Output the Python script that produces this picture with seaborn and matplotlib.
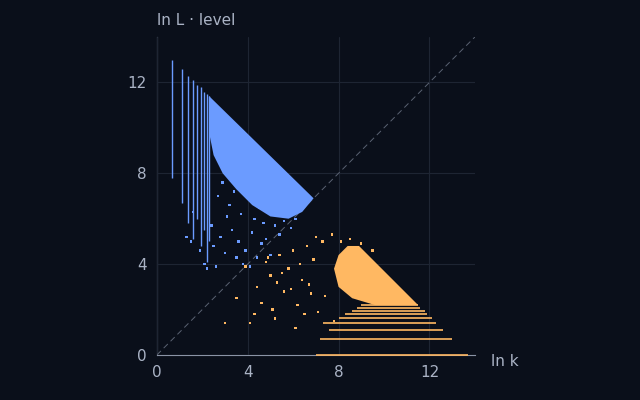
import numpy as np
import pandas as pd
import matplotlib.pyplot as plt
import seaborn as sns

sns.set_style('dark')
plt.rcParams['font.family'] = ['DejaVu Sans']

BG = '#0a0f1a'
BLUE = '#6b9bff'
ORANGE = '#ffb862'
TXT = '#aab3c5'

# blue stripes: ln k, low and high ln(L*level)
blue_stripe_x = [0.69, 1.10, 1.39, 1.61, 1.79, 1.95, 2.08, 2.20, 2.30]
blue_stripe_lo = [7.8, 6.7, 5.8, 5.1, 6.0, 4.8, 5.5, 4.1, 5.0]
blue_stripe_hi = [13.0, 12.6, 12.3, 12.1, 11.9, 11.8, 11.6, 11.5, 11.4]

# orange stripes: ln level, x extent
orange_stripe_y = [0.0, 0.69, 1.10, 1.39, 1.61, 1.79, 1.95, 2.08, 2.20]
orange_stripe_lo = [7.0, 7.2, 7.6, 7.3, 8.0, 8.3, 8.6, 8.8, 9.0]
orange_stripe_hi = [13.7, 13.0, 12.6, 12.3, 12.1, 11.9, 11.8, 11.6, 11.5]

# dense regions (outline)
blue_area_x = [2.3, 6.9, 6.4, 5.8, 5.0, 4.2, 3.5, 2.9, 2.5, 2.3]
blue_area_y = [11.4, 6.9, 6.3, 6.0, 6.1, 6.6, 7.3, 8.0, 8.8, 9.8]
orange_area_x = [8.4, 8.9, 11.5, 9.6, 8.6, 8.0, 7.8, 8.0]
orange_area_y = [4.8, 4.8, 2.2, 2.2, 2.5, 3.0, 3.8, 4.4]

# scattered points
blue_pts_x = [1.3, 1.5, 1.6, 1.9, 2.1, 2.2, 2.4, 2.5, 2.6, 2.8, 3.0, 3.1, 3.3, 3.5,
              3.6, 3.8, 3.9, 4.1, 4.2, 4.4, 4.6, 4.8, 5.0, 5.2, 5.4, 5.6, 5.9, 6.1,
              2.7, 3.2, 3.7, 4.3, 4.7, 2.9, 3.4, 4.0, 4.5, 5.1]
blue_pts_y = [5.2, 5.0, 6.3, 4.6, 4.0, 3.8, 5.7, 4.8, 3.9, 5.2, 4.5, 6.1, 5.5, 4.3,
              5.0, 4.0, 4.6, 3.9, 5.4, 4.3, 4.9, 5.1, 4.4, 5.7, 5.3, 5.9, 5.6, 6.0,
              7.0, 6.6, 6.2, 6.0, 5.8, 7.6, 7.2, 6.9, 6.5, 6.3]
orange_pts_x = [3.0, 3.5, 3.9, 4.1, 4.4, 4.6, 4.8, 5.0, 5.2, 5.4, 5.6, 5.8, 6.0, 6.2,
                6.4, 6.6, 6.8, 7.0, 4.3, 5.1, 5.5, 5.9, 6.3, 6.7, 7.1, 7.4, 7.8,
                4.9, 5.3, 6.1, 6.5, 6.9, 7.3, 7.7, 8.1, 8.5, 9.0, 9.5]
orange_pts_y = [1.4, 2.5, 3.9, 1.4, 3.0, 2.3, 4.1, 3.5, 1.6, 4.4, 2.8, 3.8, 4.6, 2.2,
                3.3, 4.8, 2.7, 5.2, 1.8, 2.0, 3.6, 2.9, 4.0, 3.1, 1.9, 2.6, 1.5,
                4.3, 3.2, 1.2, 1.8, 4.2, 5.0, 5.3, 5.0, 5.1, 4.9, 4.6]

fig = plt.figure(figsize=(6.4, 4.0), dpi=100, facecolor=BG)
ax = fig.add_axes([0.245, 0.1125, 0.497, 0.795], facecolor=BG)

ax.plot([0, 14], [0, 14], ls=(0, (6, 4)), color='#5a6272', lw=0.7, zorder=1)

ax.fill(blue_area_x, blue_area_y, color=BLUE, lw=0, zorder=2)
ax.fill(orange_area_x, orange_area_y, color=ORANGE, lw=0, zorder=2)
ax.vlines(blue_stripe_x, blue_stripe_lo, blue_stripe_hi, color=BLUE, lw=1.0, zorder=2)
ax.hlines(orange_stripe_y, orange_stripe_lo, orange_stripe_hi, color=ORANGE, lw=1.2,
          zorder=4, clip_on=False)

pts = pd.DataFrame({
    'x': blue_pts_x + orange_pts_x,
    'y': blue_pts_y + orange_pts_y,
    'side': ['a'] * len(blue_pts_x) + ['b'] * len(orange_pts_x),
})
sns.scatterplot(data=pts, x='x', y='y', hue='side', palette={'a': BLUE, 'b': ORANGE},
                s=3, marker='s', linewidth=0, legend=False, ax=ax, zorder=3)

ax.set_xlim(0, 14)
ax.set_ylim(0, 14)
ax.set_xticks([0, 4, 8, 12])
ax.set_yticks([0, 4, 8, 12])
ax.grid(True, color='#1e2533', lw=0.8)
ax.set_axisbelow(True)
for s in ['top', 'right']:
    ax.spines[s].set_visible(False)
for s in ['left', 'bottom']:
    ax.spines[s].set_color('#8a93a5')
    ax.spines[s].set_linewidth(0.8)
    ax.spines[s].set_zorder(0.5)
ax.tick_params(colors=TXT, labelsize=11, length=4, color='#8a93a5')
ax.set_xlabel('')
ax.set_ylabel('')
ax.text(14.7, -0.3, 'ln k', color=TXT, fontsize=11, va='center', ha='left')
ax.text(0, 14.4, 'ln L · level', color=TXT, fontsize=11, va='bottom', ha='left')

plt.savefig('out.png', dpi=100, facecolor=BG)
